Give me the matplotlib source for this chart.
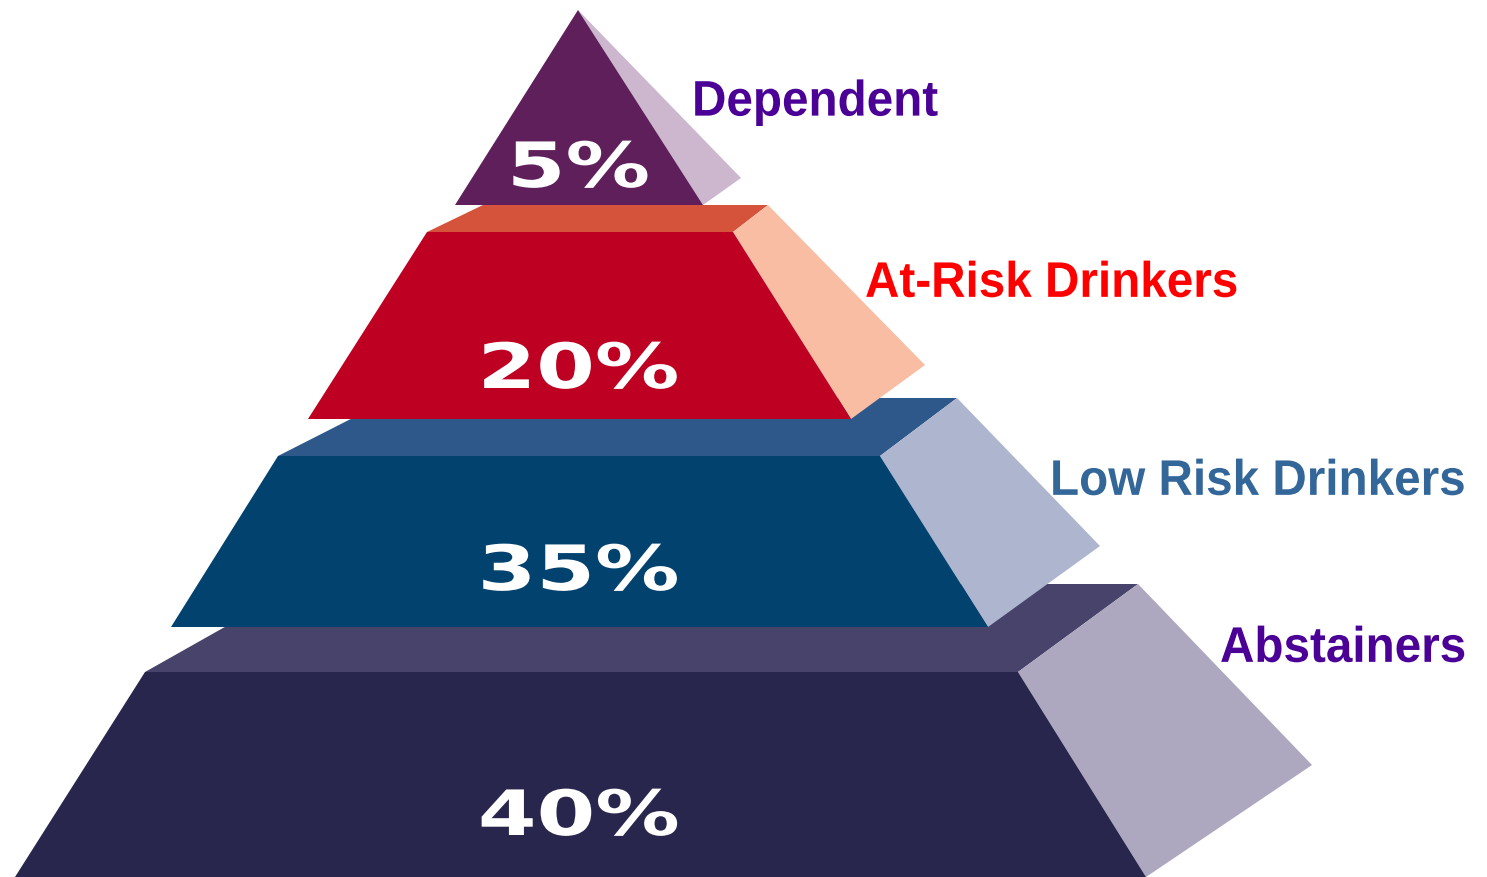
import matplotlib
matplotlib.use("Agg")
import matplotlib.pyplot as plt
from matplotlib.patches import Polygon
from matplotlib.patheffects import AbstractPathEffect
from matplotlib.transforms import Affine2D

# data
categories = ["Dependent", "At-Risk Drinkers", "Low Risk Drinkers", "Abstainers"]
shares = [5, 20, 35, 40]

# colours for each tier (front, top, side) and labels
front_colors = ["#5E1F5B", "#BE0022", "#02426F", "#29264D"]
top_colors = ["#5E1F5B", "#D5533B", "#2E578A", "#47436A"]
side_colors = ["#CCB7CF", "#F8BDA3", "#ADB5CF", "#ADA7BF"]
label_colors = ["#4B0096", "#FF0000", "#336699", "#4B0096"]

# layout of the pyramid (pixel space, y down)
front_top_y = [10, 232, 456, 672]
front_bot_y = [205, 419, 627, 877]
front_top_l = [578, 427, 278, 145]
front_top_r = [578, 733, 880, 1018]
front_bot_l = [455, 308, 171, 15]
front_bot_r = [703, 851, 988, 1146]
back_y = [10, 205, 398, 584]
back_l = [578, 483, 392, 301]
back_r = [578, 768, 957, 1138]
tip_x = [741, 925, 1100, 1312]
tip_y = [178, 365, 546, 765]
pct_base = [187, 388, 590, 835]
label_x = [692, 865, 1050, 1220]
label_y = [115, 296, 494, 661]


class Stretch(AbstractPathEffect):
    """scale the drawn text around its own centre (text stays a Text)"""
    def __init__(self, sx=1.0, sy=1.0):
        super().__init__()
        self.sx, self.sy = sx, sy

    def draw_path(self, renderer, gc, tpath, affine, rgbFace=None):
        bb = affine.transform_path(tpath).get_extents()
        cx, cy = (bb.x0 + bb.x1) / 2, (bb.y0 + bb.y1) / 2
        aff = affine + Affine2D().translate(-cx, -cy).scale(self.sx, self.sy).translate(cx, cy)
        renderer.draw_path(gc, tpath, aff, rgbFace)


fig = plt.figure(figsize=(14.87, 8.77), dpi=100)
ax = fig.add_axes([0, 0, 1, 1])
ax.set_xlim(0, 1487)
ax.set_ylim(877, 0)
ax.axis("off")

# draw from the bottom tier up so upper tiers sit on top
for i in reversed(range(len(shares))):
    if i > 0:
        top = [(front_top_l[i], front_top_y[i]), (back_l[i], back_y[i]),
               (back_r[i], back_y[i]), (front_top_r[i], front_top_y[i])]
        ax.add_patch(Polygon(top, closed=True, fc=top_colors[i], ec="none"))
    side = [(front_top_r[i], front_top_y[i]), (back_r[i], back_y[i]),
            (tip_x[i], tip_y[i]), (front_bot_r[i], front_bot_y[i])]
    ax.add_patch(Polygon(side, closed=True, fc=side_colors[i], ec="none"))
    front = [(front_top_l[i], front_top_y[i]), (front_top_r[i], front_top_y[i]),
             (front_bot_r[i], front_bot_y[i]), (front_bot_l[i], front_bot_y[i])]
    ax.add_patch(Polygon(front, closed=True, fc=front_colors[i], ec="none"))

    # wide white percentage text
    ax.text(579, pct_base[i], f"{shares[i]}%", color="white", fontsize=45,
            fontweight="bold", family="DejaVu Sans", ha="center", va="baseline",
            path_effects=[Stretch(sx=1.35)])

    ax.text(label_x[i], label_y[i], categories[i], color=label_colors[i],
            fontsize=34.3, fontweight="bold", family="Liberation Sans",
            ha="left", va="baseline", path_effects=[Stretch(sy=1.05)])

fig.savefig("out.png", dpi=100, facecolor="white")
